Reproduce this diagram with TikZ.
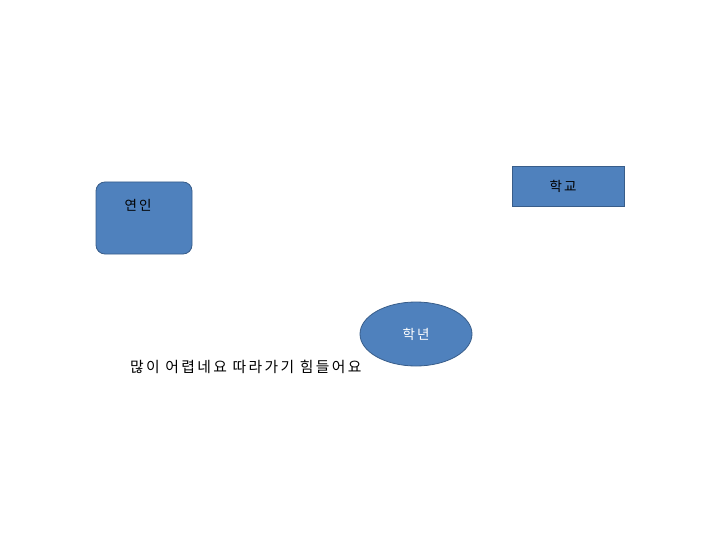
\documentclass[tikz,border=0pt]{standalone}
\usepackage{fontspec}
\setmainfont{Noto Sans CJK KR}
\newfontfamily\krfont[LetterSpace=16]{Noto Sans CJK KR}
\usetikzlibrary{shapes.geometric}
\definecolor{boxfill}{HTML}{4F81BD}
\definecolor{boxline}{HTML}{385D8A}
\tikzset{
  shapebox/.style={fill=boxfill, draw=boxline, line width=0.8pt},
  lbl/.style={font=\krfont\fontsize{13.5}{15}\selectfont, inner sep=0pt},
}
\begin{document}
\begin{tikzpicture}[x=1pt,y=-1pt]
\useasboundingbox (0,0) rectangle (720,540);
\node[shapebox, rounded corners=9pt, minimum width=96pt, minimum height=72pt] (yeonin) at (144,218) {};
\node[lbl, text=black] (yeonintxt) at (138,205) {연인};
\node[shapebox, minimum width=112pt, minimum height=40pt] (hakgyo) at (568,186) {};
\node[lbl, text=black] (hakgyotxt) at (563,186) {학교};
\node[shapebox, ellipse, minimum width=112pt, minimum height=64pt] (haknyeon) at (416,334) {};
\node[lbl, text=white] (haknyeontxt) at (416,334) {학년};
\node[lbl, font=\krfont\fontsize{14.8}{16}\selectfont, anchor=west] (caption) at (130,367) {많이 어렵네요 따라가기 힘들어요};
\end{tikzpicture}
\end{document}
